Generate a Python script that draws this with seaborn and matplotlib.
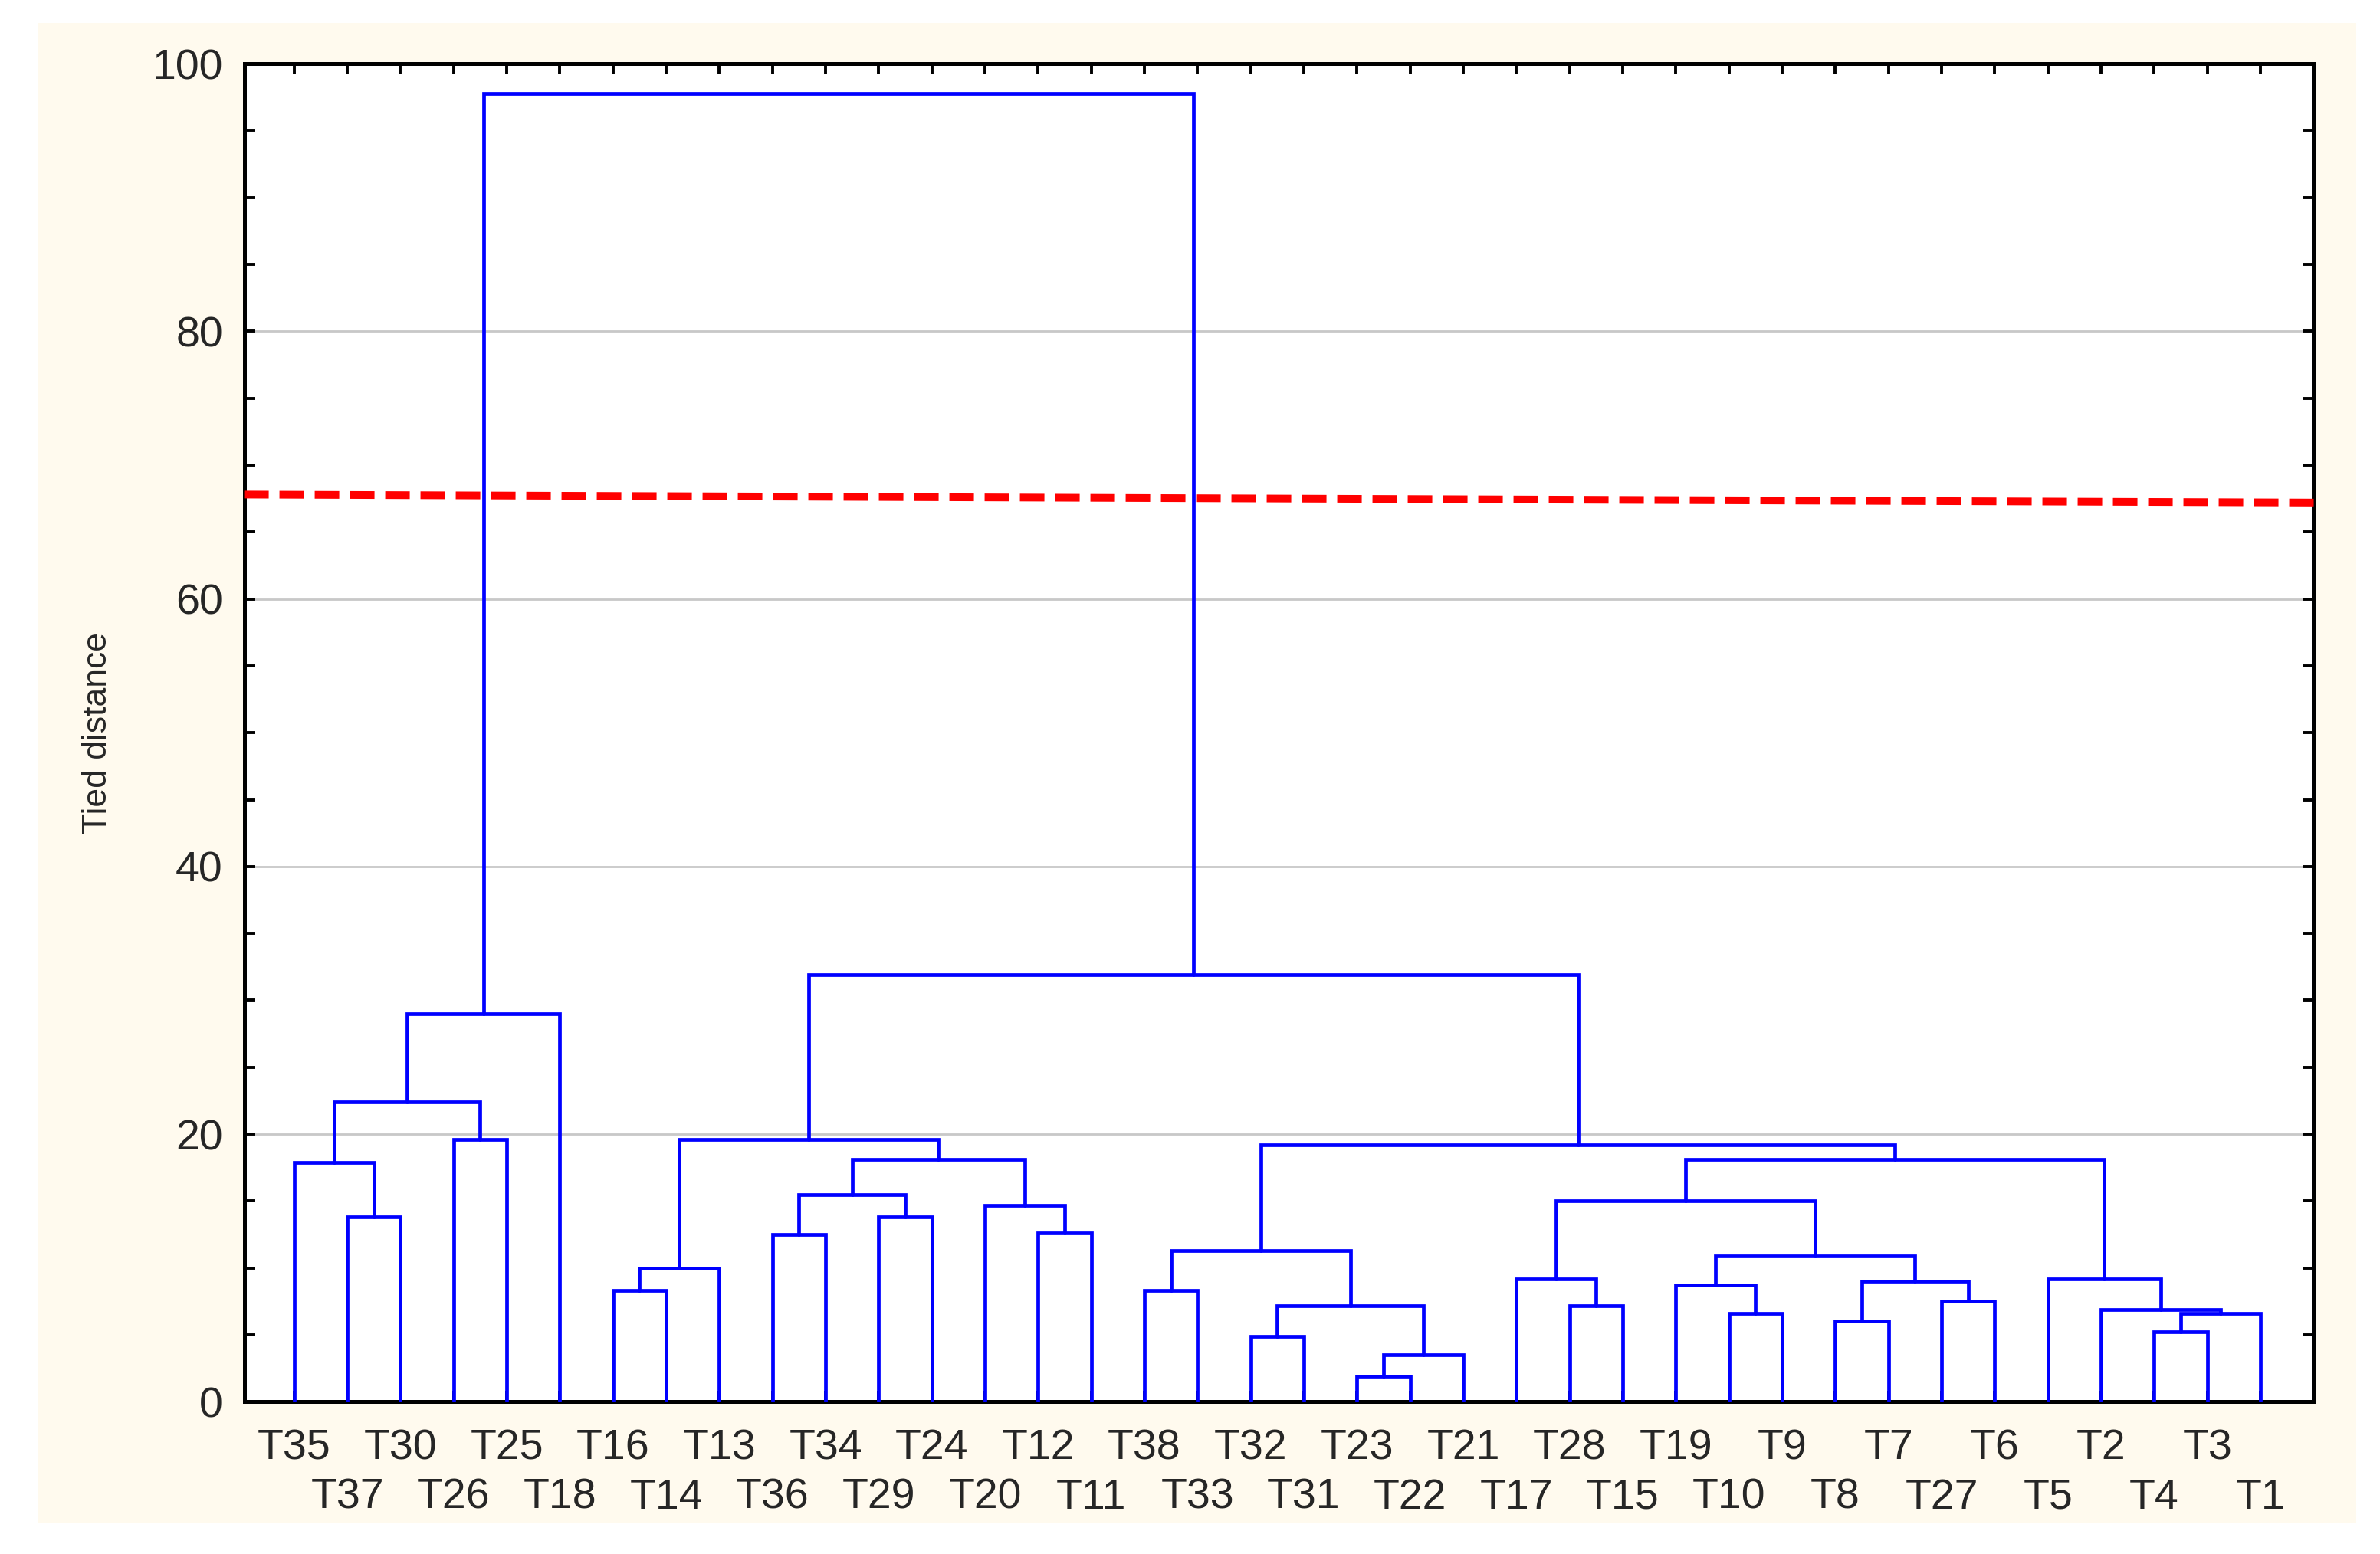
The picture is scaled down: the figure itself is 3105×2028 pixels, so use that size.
import numpy as np
import matplotlib.pyplot as plt
import seaborn as sns
from matplotlib.patches import Rectangle
from matplotlib.ticker import MultipleLocator

sns.set_style('white')
plt.rcParams['font.family'] = ['Liberation Sans', 'DejaVu Sans']

# leaf order along the x axis
leaves = ['T35', 'T37', 'T30', 'T26', 'T25', 'T18', 'T16', 'T14', 'T13', 'T36',
          'T34', 'T29', 'T24', 'T20', 'T12', 'T11', 'T38', 'T33', 'T32', 'T31',
          'T23', 'T22', 'T21', 'T17', 'T28', 'T15', 'T19', 'T10', 'T9', 'T8',
          'T7', 'T27', 'T6', 'T5', 'T2', 'T4', 'T3', 'T1']

# merges: left, right, height ; 'C<n>' = result of merge n
merge_left = ['T37', 'T35', 'T26', 'C1', 'C3', 'T16', 'C5', 'T36', 'T29', 'C7',
              'T12', 'T20', 'C9', 'C6', 'T38', 'T32', 'T23', 'C16', 'C15', 'C14',
              'T28', 'T17', 'T10', 'T19', 'T8', 'T27', 'C24', 'C23', 'C21', 'T4',
              'C29', 'T2', 'T5', 'C28', 'C19', 'C13', 'C4']
merge_right = ['T30', 'C0', 'T25', 'C2', 'T18', 'T14', 'T13', 'T34', 'T24', 'C8',
               'T11', 'C10', 'C11', 'C12', 'T33', 'T31', 'T22', 'T21', 'C17', 'C18',
               'T15', 'C20', 'T9', 'C22', 'T7', 'T6', 'C25', 'C26', 'C27', 'T3',
               'T1', 'C30', 'C31', 'C32', 'C33', 'C34', 'C35']
merge_height = [13.8, 17.9, 19.6, 22.4, 29.0, 8.3, 10.0, 12.5, 13.8, 15.5,
                12.6, 14.7, 18.1, 19.6, 8.3, 4.9, 1.9, 3.5, 7.2, 11.3,
                7.2, 9.2, 6.6, 8.7, 6.0, 7.5, 9.0, 10.9, 15.0, 5.2,
                6.6, 6.9, 9.2, 18.1, 19.2, 31.9, 97.8]
cut_level = [67.8, 67.2]

fig = plt.figure(figsize=(15.525, 10.14), dpi=200)
fig.patches.append(Rectangle((0.016, 0.02), 0.974, 0.965, transform=fig.transFigure,
                             facecolor='#fffaee', edgecolor='none', zorder=-1))
ax = fig.add_axes([0.1026, 0.098, 0.8695, 0.861])

pos = {n: (i, 0.0) for i, n in enumerate(leaves)}
for k, (a, b, h) in enumerate(zip(merge_left, merge_right, merge_height)):
    xa, ya = pos[a]
    xb, yb = pos[b]
    ax.plot([xa, xa, xb, xb], [ya, h, h, yb], color='#0000ff', lw=1.7,
            solid_joinstyle='miter', zorder=3)
    pos['C%d' % k] = ((xa + xb) / 2, h)

xl = (-0.94, 38.0)
ax.plot([xl[0], xl[1] + 0.15], cut_level, color='#ff0000', lw=3.6,
        linestyle=(0, (3.2, 1.4)), clip_on=False, zorder=4)

ax.set_xlim(xl)
ax.set_ylim(0, 100)
ax.yaxis.set_major_locator(MultipleLocator(20))
ax.yaxis.set_minor_locator(MultipleLocator(5))
ax.set_xticks(range(len(leaves)))
ax.set_xticklabels([])
ax.grid(axis='y', color='#c8c8c8', lw=1.0)
ax.tick_params(which='both', direction='in', top=True, right=True, left=True, bottom=True,
               length=5, width=1.4, color='black', labelsize=20)
ax.tick_params(axis='y', which='major', pad=10)
for s in ax.spines.values():
    s.set_linewidth(1.8)
    s.set_color('black')

for i, n in enumerate(leaves):
    y = -0.035 if i % 2 == 0 else -0.072
    ax.text(i, y, n, transform=ax.get_xaxis_transform(), ha='center', va='center',
            fontsize=20)

ax.set_ylabel('Tied distance', fontsize=16, labelpad=18)

fig.savefig('out.png', dpi=200)
